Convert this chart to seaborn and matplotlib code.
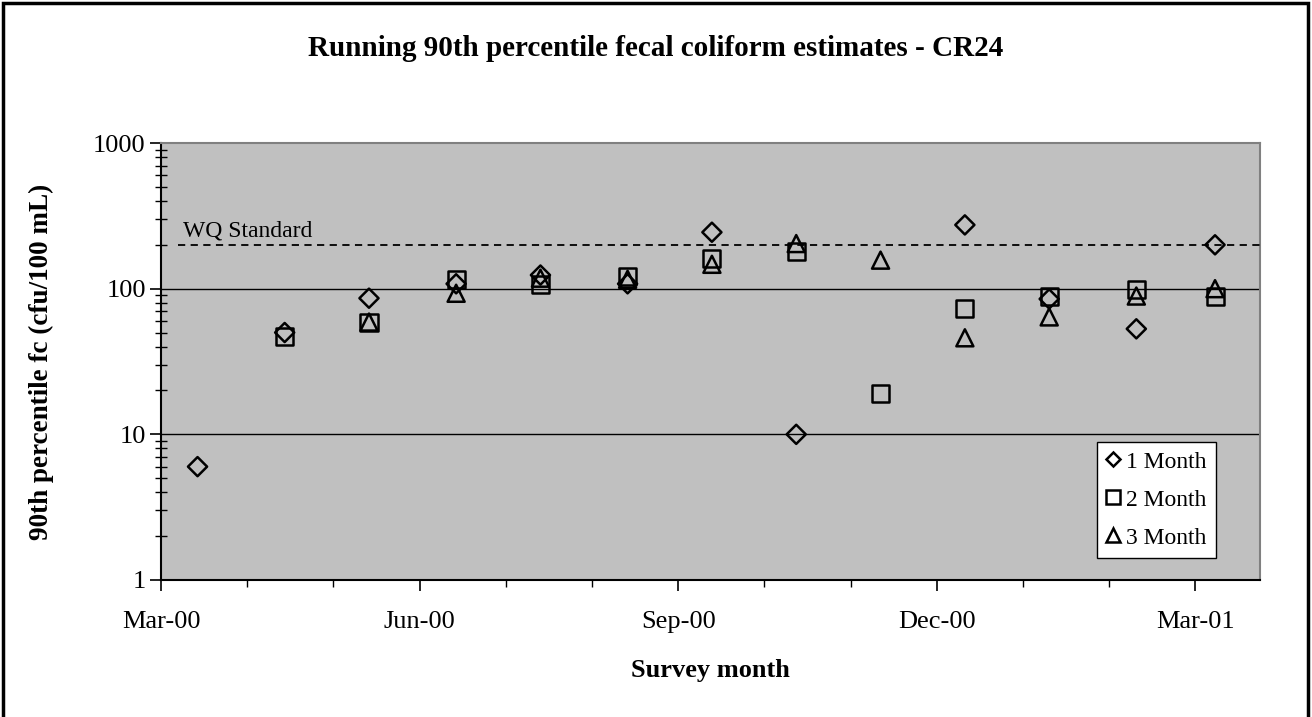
import numpy as np
import pandas as pd
import matplotlib
matplotlib.use("Agg")
import matplotlib.pyplot as plt
import matplotlib.dates as mdates
from matplotlib.lines import Line2D
from matplotlib.patches import Rectangle
import seaborn as sns

# ---------------- data ----------------
survey_dates = ["2000-03-14", "2000-04-14", "2000-05-14", "2000-06-14", "2000-07-14",
                "2000-08-14", "2000-09-13", "2000-10-13", "2000-11-12", "2000-12-12",
                "2001-01-11", "2001-02-11", "2001-03-11"]
one_month = [6, 50, 86, 108, 124, 108, 244, 10, np.nan, 274, 85, 53, 200]
two_month = [np.nan, 47, 59, 116, 107, 121, 161, 179, 19, 73, 89, 98, 89]
three_month = [np.nan, np.nan, 59, 93, 118, 116, 147, 204, 157, 46, 64, 89, 100]
series_names = ["1 Month", "2 Month", "3 Month"]
wq_standard = 200
wq_label = "WQ Standard"
title = "Running 90th percentile fecal coliform estimates - CR24"
xlabel = "Survey month"
ylabel = "90th percentile fc (cfu/100 mL)"
y_ticks = [1, 10, 100, 1000]
y_tick_labels = ["1", "10", "100", "1000"]

df = pd.DataFrame({"date": pd.to_datetime(survey_dates),
                   "1 Month": one_month, "2 Month": two_month, "3 Month": three_month})
long = df.melt(id_vars="date", var_name="series", value_name="fc").dropna()

# ---------------- style ----------------
sns.set_theme(style="white")
plt.rcParams["font.family"] = ["Liberation Serif", "DejaVu Serif"]
plt.rcParams["text.color"] = "black"
plt.rcParams["axes.labelcolor"] = "black"
plt.rcParams["xtick.color"] = "black"
plt.rcParams["ytick.color"] = "black"

fig = plt.figure(figsize=(13.12, 7.17), dpi=100)
ax = fig.add_axes([161 / 1312, 1 - 580 / 717, (1260 - 161) / 1312, (580 - 143) / 717])
ax.set_facecolor("#C0C0C0")

marker_map = {"1 Month": "D", "2 Month": "s", "3 Month": "^"}
size_map = {"1 Month": 95, "2 Month": 150, "3 Month": 150}
for name in series_names:
    sub = long[long["series"] == name]
    sns.scatterplot(data=sub, x="date", y="fc", ax=ax, marker=marker_map[name],
                    s=size_map[name], facecolor="none", edgecolor="black",
                    linewidth=1.8, zorder=5, legend=False)

x0 = pd.Timestamp("2000-03-01")
x1 = x0 + pd.Timedelta(days=391)
ax.set_yscale("log")
ax.set_ylim(1, 1000)
ax.set_xlim(x0, x1)

# WQ standard line
std_df = pd.DataFrame({"date": [x0 + pd.Timedelta(days=6), x1], "fc": [wq_standard, wq_standard]})
sns.lineplot(data=std_df, x="date", y="fc", ax=ax, color="black", linestyle=(0, (4, 3)),
             linewidth=1.3, zorder=3)
ax.text(x0 + pd.Timedelta(days=8), wq_standard * 1.05, wq_label, fontsize=17,
        ha="left", va="bottom", color="black")

# gridlines
for v in [10, 100]:
    ax.axhline(v, color="black", linewidth=1.0, zorder=2)

# x ticks: major every 92 days, minor every third of that
major = [x0 + pd.Timedelta(days=92 * k) for k in range(5)]
minor = [x0 + pd.Timedelta(days=92 * k / 3) for k in range(13)]
ax.set_xticks(major)
ax.set_xticks(minor, minor=True)
ax.xaxis.set_major_formatter(mdates.DateFormatter("%b-%y"))
ax.tick_params(axis="x", which="major", direction="out", length=8, width=1.2,
               color="black", labelsize=19, pad=14, bottom=True)
ax.tick_params(axis="x", which="minor", direction="out", length=5, width=1.0,
               color="black", bottom=True)

ax.set_yticks(y_ticks)
ax.set_yticklabels(y_tick_labels)
ax.yaxis.set_minor_locator(matplotlib.ticker.LogLocator(base=10, subs=np.arange(2, 10)))
ax.yaxis.set_minor_formatter(matplotlib.ticker.NullFormatter())
ax.tick_params(axis="y", which="major", direction="out", length=8, width=1.2,
               color="black", labelsize=19, pad=3, left=True)
ax.tick_params(axis="y", which="minor", direction="inout", length=8, width=1.0,
               color="black", left=True)

for side in ["left", "bottom"]:
    ax.spines[side].set_color("black")
    ax.spines[side].set_linewidth(1.5)
for side in ["top", "right"]:
    ax.spines[side].set_color("#808080")
    ax.spines[side].set_linewidth(1.5)

ax.set_xlabel(xlabel, fontsize=19, fontweight="bold")
ax.xaxis.set_label_coords(0.5, -0.18)
ax.set_ylabel(ylabel, fontsize=19.5, fontweight="bold")
ax.yaxis.set_label_coords(-0.097, 0.5)
fig.text(656 / 1312, 1 - 48 / 717, title, fontsize=21, fontweight="bold",
         ha="center", va="center")

handles = [Line2D([], [], linestyle="none", marker=marker_map[n], markersize=ms,
                  markerfacecolor="none", markeredgecolor="black", markeredgewidth=1.8)
           for n, ms in zip(series_names, [7.5, 9.5, 9.5])]
leg = ax.legend(handles, series_names, loc="lower right", bbox_to_anchor=(0.96, 0.05),
                frameon=True, fancybox=False, fontsize=17, handlelength=0.6,
                handletextpad=0.25, borderpad=0.4, labelspacing=0.7, borderaxespad=0)
leg.get_frame().set_edgecolor("black")
leg.get_frame().set_linewidth(1.0)
leg.get_frame().set_facecolor("white")
leg.get_frame().set_alpha(1)

# outer frame
fig.patches.append(Rectangle((3 / 1312, -0.05), 1 - 7 / 1312, 1.05 - 3 / 717,
                             transform=fig.transFigure, fill=False, edgecolor="black",
                             linewidth=2.5))

fig.savefig("out.png", dpi=100)
